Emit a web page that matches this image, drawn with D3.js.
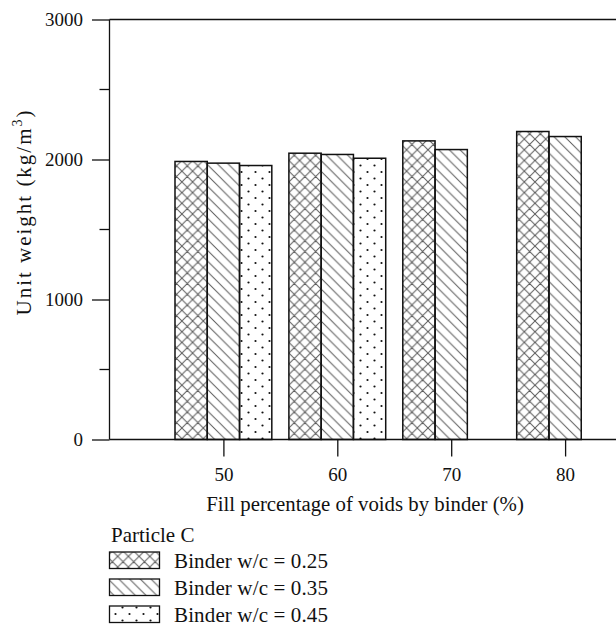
<!DOCTYPE html>
<html>
<head>
<meta charset="utf-8">
<script src="https://cdn.jsdelivr.net/npm/d3@7/dist/d3.min.js"></script>
<style>
  html, body { margin: 0; padding: 0; background: #fff; }
  svg { display: block; }
  text { font-family: "Liberation Serif", "DejaVu Serif", serif; fill: #111; }
</style>
</head>
<body>
<svg id="chart" width="616" height="626"></svg>
<script>
// Fill percentage of voids by binder (%)
const fillPercents = [50, 60, 70, 80];
// Unit weight (kg/m3) for each binder w/c ratio; null where not tested
const wc025 = [1986, 2045, 2133, 2200];
const wc035 = [1974, 2036, 2071, 2164];
const wc045 = [1957, 2009, null, null];

const seriesNames = ["Binder w/c = 0.25", "Binder w/c = 0.35", "Binder w/c = 0.45"];
const seriesPatterns = ["hatchCross", "hatchDiag", "hatchDots"];
const yMajorTicks = [0, 1000, 2000, 3000];
const yMinorTicks = [500, 1500, 2500];
const legendTitle = "Particle C";

const series = [wc025, wc035, wc045];

const svg = d3.select("#chart");
const W = 616;

const x = d3.scaleLinear().domain([40, 90]).range([109.5, 679]);
const y = d3.scaleLinear().domain([0, 3000]).range([439.5, 19.5]);

// spread a text run with letter-spacing until it spans the given width
function fitWidth(sel, target) {
  const node = sel.node();
  const n = node.textContent.length;
  const natural = node.getComputedTextLength();
  if (n > 1 && natural < target) sel.attr("letter-spacing", (target - natural) / (n - 1));
  return sel;
}

// fill patterns
const defs = svg.append("defs");
const P = 10.7;
const cross = defs.append("pattern").attr("id", "hatchCross")
  .attr("patternUnits", "userSpaceOnUse").attr("width", P).attr("height", P);
cross.append("path").attr("d", `M0,0L${P},${P}M0,${P}L${P},0M${-P/2},${P/2}L${P/2},${1.5*P}M${P/2},${-P/2}L${1.5*P},${P/2}M${-P/2},${P/2}L${P/2},${-P/2}M${P/2},${1.5*P}L${1.5*P},${P/2}`)
  .attr("stroke", "#5a5a5a").attr("stroke-width", 1).attr("fill", "none");

const diag = defs.append("pattern").attr("id", "hatchDiag")
  .attr("patternUnits", "userSpaceOnUse").attr("width", P).attr("height", P);
diag.append("path").attr("d", `M0,0L${P},${P}M${-P/2},${P/2}L${P/2},${1.5*P}M${P/2},${-P/2}L${1.5*P},${P/2}`)
  .attr("stroke", "#5a5a5a").attr("stroke-width", 1).attr("fill", "none");

const dots = defs.append("pattern").attr("id", "hatchDots")
  .attr("patternUnits", "userSpaceOnUse").attr("width", 14).attr("height", 13);
dots.append("circle").attr("cx", 3.5).attr("cy", 3).attr("r", 1.1).attr("fill", "#111");
dots.append("circle").attr("cx", 10.5).attr("cy", 9.5).attr("r", 1.1).attr("fill", "#111");

// bars
const groupSpan = 8.5; // x units covered by a group of three bars
const barUnits = groupSpan / 3;
const barW = x(40 + barUnits) - x(40);

series.forEach((vals, si) => {
  svg.append("g").selectAll("rect")
    .data(fillPercents.map((c, i) => ({ c, v: vals[i] })).filter(d => d.v != null))
    .join("rect")
    .attr("x", d => x(d.c - groupSpan / 2 + si * barUnits))
    .attr("y", d => y(d.v))
    .attr("width", barW)
    .attr("height", d => y(0) - y(d.v))
    .attr("fill", `url(#${seriesPatterns[si]})`)
    .attr("stroke", "#111")
    .attr("stroke-width", 1.5);
});

// frame line along the top
svg.append("line").attr("x1", x(40)).attr("x2", W).attr("y1", y(3000)).attr("y2", y(3000))
  .attr("stroke", "#111").attr("stroke-width", 1.3);

// y axis
const yAxis = d3.axisLeft(y).tickValues(yMajorTicks).tickSize(17.5).tickPadding(9)
  .tickFormat(d3.format("d"));
const gy = svg.append("g").attr("transform", `translate(${x(40)},0)`).call(yAxis);
gy.select(".domain").remove();
gy.selectAll(".tick line").attr("stroke", "#111").attr("stroke-width", 1.3);
gy.selectAll(".tick text").attr("font-size", 19).attr("font-family", "Liberation Serif").attr("fill", "#111");
svg.append("g").selectAll("line").data(yMinorTicks).join("line")
  .attr("x1", x(40) - 10).attr("x2", x(40)).attr("y1", d => y(d)).attr("y2", d => y(d))
  .attr("stroke", "#111").attr("stroke-width", 1.3);
svg.append("line").attr("x1", x(40)).attr("x2", x(40)).attr("y1", y(3000)).attr("y2", y(0))
  .attr("stroke", "#111").attr("stroke-width", 1.3);

// x axis
const xAxis = d3.axisBottom(x).tickValues(fillPercents).tickSize(17).tickPadding(11)
  .tickFormat(d3.format("d"));
const gx = svg.append("g").attr("transform", `translate(0,${y(0)})`).call(xAxis);
gx.select(".domain").remove();
gx.selectAll(".tick line").attr("stroke", "#111").attr("stroke-width", 1.3);
gx.selectAll(".tick text").attr("font-size", 19).attr("font-family", "Liberation Serif").attr("fill", "#111");
svg.append("line").attr("x1", x(40)).attr("x2", W).attr("y1", y(0)).attr("y2", y(0))
  .attr("stroke", "#111").attr("stroke-width", 1.3);

// axis titles
fitWidth(svg.append("text").attr("x", 365).attr("y", 511).attr("text-anchor", "middle")
  .attr("font-size", 20.8).text("Fill percentage of voids by binder (%)"), 316);

const yt = svg.append("text").attr("transform", "translate(31,212) rotate(-90)")
  .attr("text-anchor", "middle").attr("font-size", 21);
yt.append("tspan").text("Unit weight (kg/m");
yt.append("tspan").attr("font-size", 14).attr("dy", -9).text("3");
yt.append("tspan").attr("dy", 9).text(")");
fitWidth(yt, 205);

// legend
const lg = svg.append("g");
fitWidth(lg.append("text").attr("x", 111).attr("y", 541.5).attr("font-size", 21).text(legendTitle), 81);
seriesNames.forEach((name, i) => {
  const top = 552 + i * 27;
  lg.append("rect").attr("x", 109.5).attr("y", top).attr("width", 50).attr("height", 16.5)
    .attr("fill", `url(#${seriesPatterns[i]})`).attr("stroke", "#111").attr("stroke-width", 1.3);
  fitWidth(lg.append("text").attr("x", 174).attr("y", top + 15.5).attr("font-size", 21).text(name), 154);
});
</script>
</body>
</html>
